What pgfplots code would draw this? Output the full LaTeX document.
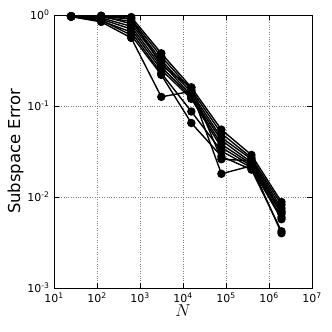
\documentclass[border=0pt]{standalone}
\usepackage{fontspec}
\setmainfont{DejaVu Sans}
\usepackage{pgfplots}
\pgfplotsset{compat=1.18}
\pgfplotsset{ser/.style={black, solid, line width=1.4pt, mark=*, mark size=3.5pt, mark options={solid, fill=black}}}
\begin{document}
\begin{tikzpicture}
\begin{axis}[
  scale only axis, width=258bp, height=273bp,
  xmode=log, ymode=log, log basis x=10, log basis y=10,
  xmin=10, xmax=1e7, ymin=1e-3, ymax=1,
  xtick={10,100,1000,1e4,1e5,1e6,1e7},
  xticklabels={10\textsuperscript{1},10\textsuperscript{2},10\textsuperscript{3},10\textsuperscript{4},10\textsuperscript{5},10\textsuperscript{6},10\textsuperscript{7}},
  ytick={1e-3,1e-2,1e-1,1},
  yticklabels={10\textsuperscript{-3},10\textsuperscript{-2},10\textsuperscript{-1},10\textsuperscript{0}},
  tick align=inside, major tick length=5bp, minor tick length=2.5bp,
  tick style={black, line width=0.5pt},
  xtick pos=both, ytick pos=both,
  grid=major, major grid style={gray, dotted, line width=0.5pt},
  axis line style={black, line width=0.6pt},
  ticklabel style={font=\fontsize{11}{13}\selectfont},
  yticklabel style={xshift=-1bp},
  xticklabel style={yshift=-1bp},
  xlabel={$N$}, ylabel={Subspace Error},
  label style={font=\fontsize{16.5}{18}\selectfont},
  xlabel style={yshift=4bp},
  ylabel style={yshift=-3bp},
  clip=false,
]
\addplot[ser] coordinates {(25,0.97)(125,0.98)(625,0.95)(3125,0.38)(15625,0.16)(78125,0.055)(390625,0.029)(1953125,0.0088)};
\addplot[ser] coordinates {(25,0.96)(125,0.97)(625,0.90)(3125,0.35)(15625,0.15)(78125,0.050)(390625,0.027)(1953125,0.0082)};
\addplot[ser] coordinates {(25,0.97)(125,0.95)(625,0.85)(3125,0.32)(15625,0.14)(78125,0.045)(390625,0.026)(1953125,0.0075)};
\addplot[ser] coordinates {(25,0.96)(125,0.98)(625,0.80)(3125,0.30)(15625,0.13)(78125,0.042)(390625,0.024)(1953125,0.0070)};
\addplot[ser] coordinates {(25,0.97)(125,0.93)(625,0.75)(3125,0.27)(15625,0.125)(78125,0.038)(390625,0.023)(1953125,0.0065)};
\addplot[ser] coordinates {(25,0.96)(125,0.90)(625,0.70)(3125,0.25)(15625,0.12)(78125,0.035)(390625,0.022)(1953125,0.0060)};
\addplot[ser] coordinates {(25,0.96)(125,0.86)(625,0.65)(3125,0.23)(15625,0.087)(78125,0.032)(390625,0.021)(1953125,0.0057)};
\addplot[ser] coordinates {(25,0.97)(125,0.88)(625,0.60)(3125,0.22)(15625,0.065)(78125,0.028)(390625,0.020)(1953125,0.0042)};
\addplot[ser] coordinates {(25,0.96)(125,0.84)(625,0.56)(3125,0.126)(15625,0.145)(78125,0.018)(390625,0.022)(1953125,0.0040)};
\addplot[ser] coordinates {(25,0.97)(125,0.96)(625,0.92)(3125,0.28)(15625,0.16)(78125,0.026)(390625,0.025)(1953125,0.0068)};
\end{axis}
\pgfresetboundingbox
\path[use as bounding box] ([shift={(-54bp,-44bp)}]current axis.south west) rectangle ([shift={(20bp,15bp)}]current axis.north east);
\end{tikzpicture}
\end{document}
